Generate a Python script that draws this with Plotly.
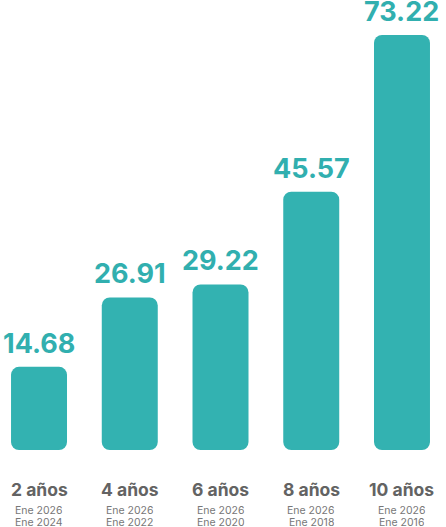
import plotly.graph_objects as go

categories = ["2 años", "4 años", "6 años", "8 años", "10 años"]
values = [14.68, 26.91, 29.22, 45.57, 73.22]
value_labels = ["14.68", "26.91", "29.22", "45.57", "73.22"]
date_end = ["Ene 2026", "Ene 2026", "Ene 2026", "Ene 2026", "Ene 2026"]
date_start = ["Ene 2024", "Ene 2022", "Ene 2020", "Ene 2018", "Ene 2016"]

BAR = "#33B2B1"
TXT = "#31AFAF"
FONT = "Inter"

fig = go.Figure()
# each bar drawn from its value down to zero
fig.add_trace(go.Bar(x=categories, y=[-v for v in values], base=values,
                     marker=dict(color=BAR, line=dict(width=0)),
                     hoverinfo="skip"))

ann = []
for c, v, lab, d1, d2 in zip(categories, values, value_labels, date_end, date_start):
    ann.append(dict(x=c, y=v, xref="x", yref="y", text=lab, showarrow=False,
                    yanchor="bottom", yshift=5,
                    font=dict(family=FONT, size=27, color=TXT, weight=700)))
    ann.append(dict(x=c, y=0, xref="x", yref="paper", text="<b>" + c + "</b>",
                    showarrow=False, yanchor="middle", yshift=-39,
                    font=dict(family=FONT, size=17.5, color="#636363")))
    ann.append(dict(x=c, y=0, xref="x", yref="paper", text=d1,
                    showarrow=False, yanchor="middle", yshift=-60, height=12,
                    font=dict(family=FONT, size=10.5, color="#777777")))
    ann.append(dict(x=c, y=0, xref="x", yref="paper", text=d2,
                    showarrow=False, yanchor="middle", yshift=-72, height=12,
                    font=dict(family=FONT, size=10.5, color="#777777")))

fig.update_layout(
    width=446, height=527,
    margin=dict(l=0, r=0, t=0, b=77),
    paper_bgcolor="white", plot_bgcolor="white",
    bargap=0.383, barcornerradius=8,
    showlegend=False,
    annotations=ann,
    xaxis=dict(type="category", range=[-0.43, 4.485], showticklabels=False,
               showgrid=False, zeroline=False, showline=False, fixedrange=True),
    yaxis=dict(range=[0, 79.4], visible=False, fixedrange=True),
)

fig.write_html("out.html", config={"displayModeBar": False},
               post_script="document.body.style.margin='0';document.body.style.overflow='hidden';")
